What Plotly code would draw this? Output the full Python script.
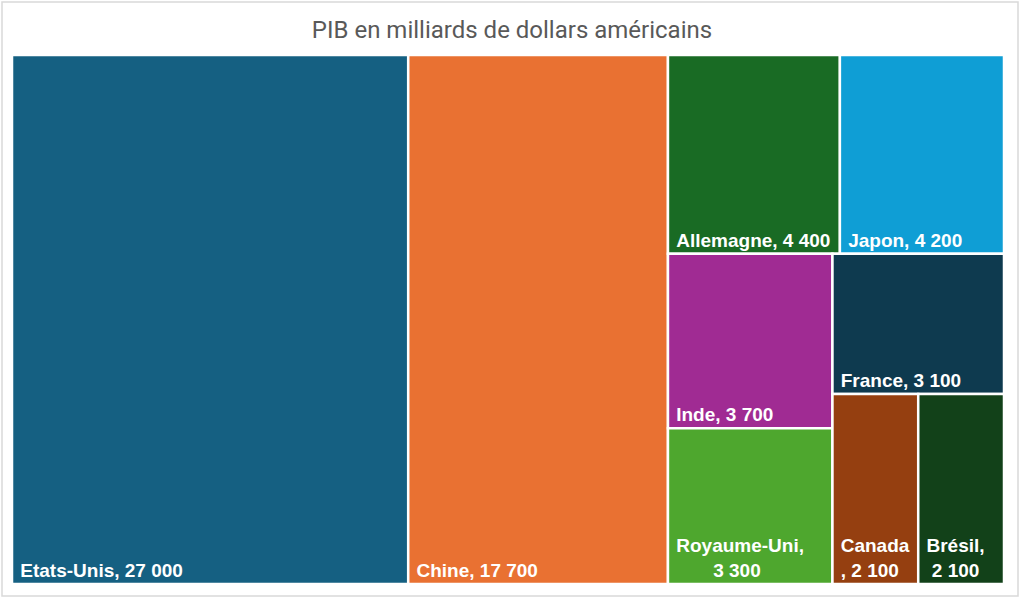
import plotly.graph_objects as go

title = "PIB en milliards de dollars américains"
pays = ["Etats-Unis", "Chine", "Allemagne", "Japon", "Inde",
        "Royaume-Uni", "France", "Canada", "Brésil"]
pib = [27000, 17700, 4400, 4200, 3700, 3300, 3100, 2100, 2100]
couleurs = ["#156082", "#E97132", "#196B24", "#0F9ED5", "#A02B93",
            "#4EA72E", "#0E3A4F", "#953F10", "#124119"]

NB = "\u00a0"
# label layout per tile (line breaks as in the reference)
templates = []
for p in pays:
    if p == "Royaume-Uni":
        templates.append(NB + "%{label},<br>" + NB * 8 + "%{value:,.0f}")
    elif p == "Brésil":
        templates.append(NB + "%{label},<br>" + NB * 2 + "%{value:,.0f}")
    elif p == "Canada":
        templates.append(NB + "%{label}<br>" + NB + ", %{value:,.0f}")
    else:
        templates.append(NB + "%{label}, %{value:,.0f}")

fig = go.Figure(go.Treemap(
    labels=pays,
    parents=[""] * len(pays),
    values=pib,
    marker=dict(colors=couleurs, line=dict(color="white", width=2.5),
                pad=dict(t=0, l=0, r=0, b=0)),
    texttemplate=templates,
    textposition="bottom left",
    textfont=dict(family="Liberation Sans, Arial, sans-serif", size=19,
                  color="white", weight="bold"),
    tiling=dict(packing="squarify", squarifyratio=1.17, pad=0),
    pathbar=dict(visible=False),
    sort=True,
    hoverinfo="label+value",
))

W, H = 1024, 603
ml, mr, mt, mb = 12, 20, 55, 19
pw, ph = W - ml - mr, H - mt - mb

fig.update_layout(
    width=W, height=H,
    margin=dict(l=ml, r=mr, t=mt, b=mb),
    separators=", ",
    paper_bgcolor="white",
    title=dict(text=title, x=0.5, xanchor="center", y=1 - 30 / H, yanchor="middle",
               font=dict(family="Liberation Sans Narrow, Roboto, sans-serif",
                         size=24, color="#595959")),
    shapes=[dict(type="rect", xref="paper", yref="paper",
                 x0=(2 - ml) / pw, x1=(1018 - ml) / pw,
                 y0=(H - mb - 596) / ph, y1=(H - mb - 2) / ph,
                 line=dict(color="#D9D9D9", width=1.5), layer="below")],
)

fig.write_html("out.html")
